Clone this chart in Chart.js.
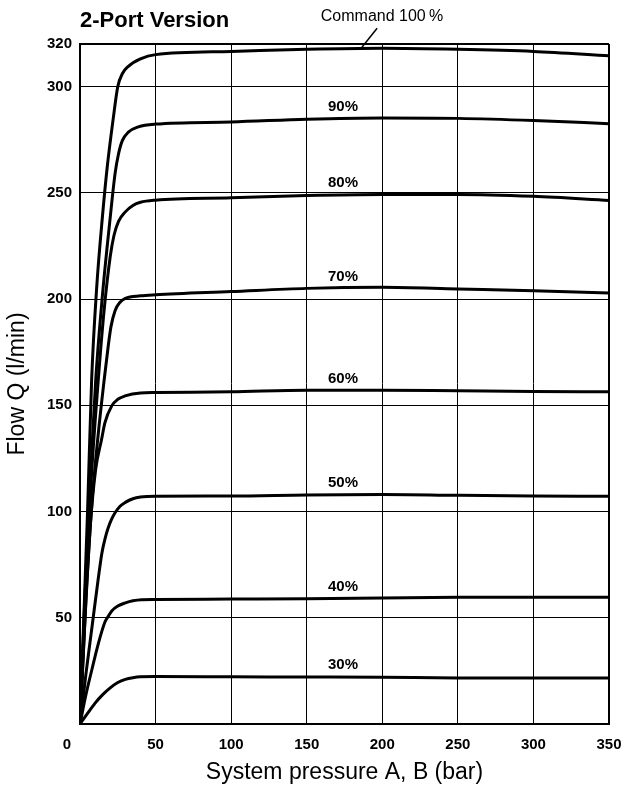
<!DOCTYPE html>
<html>
<head>
<meta charset="utf-8">
<title>2-Port Version</title>
<script src="https://cdn.jsdelivr.net/npm/chart.js@4.4.1/dist/chart.umd.min.js"></script>
<style>
  html, body { margin: 0; padding: 0; background: #fff; }
  canvas { display: block; }
</style>
</head>
<body>
<canvas id="grafico" width="626" height="799"></canvas>
<script>
"use strict";
// curves: pressure (bar) -> flow Q (l/min), one pair per command %
const pres100 = [0, 2, 5, 7.7, 11, 15, 18, 22, 25, 28, 32, 40, 50, 100, 150, 200, 250, 300, 350];
const flow100 = [0, 40, 100, 162, 205, 240, 262, 285, 300, 306, 309.5, 313, 315, 316.5, 317.5, 318, 317.5, 316.5, 314.5];
const pres90 = [0, 3, 6, 10.4, 15, 19.9, 23.2, 25.4, 28, 32, 38.6, 50, 100, 150, 200, 250, 300, 350];
const flow90 = [0, 55, 105, 162, 203, 237.7, 259, 268, 274.5, 278.5, 281, 282.3, 283.3, 284.6, 285.2, 285, 284, 282.5];
const pres80 = [0, 3, 7, 12.1, 16, 20, 22.5, 25.5, 30, 35, 40, 50, 100, 150, 200, 250, 300, 350];
const flow80 = [0, 50, 110, 162, 195, 220, 230, 236.5, 241, 244, 245.5, 246.5, 247.6, 248.7, 249.2, 249.2, 248.3, 246.4];
const pres70 = [0, 4, 8, 12, 16, 18.7, 20.5, 23.2, 26.5, 30, 40, 50, 100, 150, 200, 250, 300, 350];
const flow70 = [0, 60, 105, 136, 162, 178, 187, 194.5, 198.5, 200.3, 201.5, 202, 203.5, 205, 205.5, 204.7, 203.9, 202.8];
const pres60 = [0, 3, 7, 10.4, 14.3, 16.5, 21, 25, 29.8, 40, 50, 100, 150, 200, 250, 300, 350];
const flow60 = [0, 45, 95, 120, 134, 141.8, 149.7, 152.8, 154.4, 155.8, 156, 156.3, 157.1, 157.1, 156.8, 156.5, 156.3];
const pres50 = [0, 4, 8, 12, 14.5, 16.5, 18.5, 21, 23.2, 26.5, 30, 35, 40, 50, 100, 150, 200, 250, 300, 350];
const flow50 = [0, 24, 46, 68, 80.5, 87, 92, 96.5, 99.4, 102.5, 104.3, 106, 106.8, 107.2, 107.3, 107.8, 108, 107.6, 107.3, 107.2];
const pres40 = [0, 4, 8, 12, 16.5, 19, 21, 25, 30, 35, 40.8, 50, 100, 150, 200, 250, 300, 350];
const flow40 = [0, 14, 26, 37.5, 48, 51, 53.2, 55.5, 57, 58, 58.5, 58.6, 58.8, 59, 59.3, 59.6, 59.7, 59.7];
const pres30 = [0, 5, 10, 15, 20, 25, 30, 35, 40, 50, 100, 150, 200, 250, 300, 350];
const flow30 = [0, 5, 9.8, 13.8, 17, 19.5, 21, 21.8, 22.2, 22.3, 22.2, 22.1, 22, 21.7, 21.7, 21.7];

const comandos = ['100%', '90%', '80%', '70%', '60%', '50%', '40%', '30%'];
const curvas = [
    [pres100, flow100], [pres90, flow90], [pres80, flow80], [pres70, flow70],
    [pres60, flow60], [pres50, flow50], [pres40, flow40], [pres30, flow30]
];
// curve labels sit at this pressure, just above each curve
const rotuloPressao = 174;
const rotuloVazao = [null, 285, 249, 205, 157, 108, 59, 22];
const yTicks = [0, 50, 100, 150, 200, 250, 300, 320];
const fonte = 'Liberation Sans, Arial, Helvetica, sans-serif';

const datasets = curvas.map((c, i) => ({
    label: comandos[i],
    data: c[0].map((p, j) => ({ x: p, y: c[1][j] })),
    borderColor: '#000',
    borderWidth: 3,
    pointRadius: 0,
    fill: false,
    cubicInterpolationMode: 'monotone'
}));

const rotulos = {
    id: 'rotulos',
    afterDraw(chart) {
        const ctx = chart.ctx;
        const xs = chart.scales.x, ys = chart.scales.y;
        ctx.save();
        ctx.fillStyle = '#000';
        ctx.strokeStyle = '#000';
        // title
        ctx.font = 'bold 22px ' + fonte;
        ctx.textAlign = 'left';
        ctx.textBaseline = 'middle';
        ctx.fillText('2-Port Version', 80, 21);
        // percent labels
        ctx.font = 'bold 15px ' + fonte;
        ctx.textAlign = 'center';
        rotuloVazao.forEach((v, i) => {
            if (v === null) return;
            ctx.fillText(comandos[i], xs.getPixelForValue(rotuloPressao), ys.getPixelForValue(v) - 12);
        });
        // command 100 % with leader line
        const px = xs.getPixelForValue(186), py = ys.getPixelForValue(318);
        ctx.lineWidth = 1.5;
        ctx.beginPath();
        ctx.moveTo(px, py);
        ctx.lineTo(px + 16, py - 20);
        ctx.stroke();
        ctx.font = '16px ' + fonte;
        ctx.fillText('Command 100\u2009%', 382, 17);
        // origin label, sits left of the axis
        ctx.font = 'bold 15px ' + fonte;
        ctx.fillText('0', xs.getPixelForValue(0) - 13, 745);
        ctx.restore();
    }
};

const ctx = document.getElementById('grafico').getContext('2d');
const grafico = new Chart(ctx, {
    type: 'line',
    data: { datasets: datasets },
    options: {
        responsive: false,
        animation: false,
        layout: { padding: { top: 44, right: 17, left: 0, bottom: 0 } },
        plugins: { legend: { display: false }, tooltip: { enabled: false } },
        scales: {
            x: {
                type: 'linear',
                min: 0,
                max: 350,
                ticks: {
                    stepSize: 50,
                    padding: 12,
                    color: '#000',
                    font: { family: fonte, size: 15, weight: 'bold' },
                    callback: (v) => v === 0 ? '' : v
                },
                grid: {
                    color: '#000',
                    drawTicks: false,
                    lineWidth: (c) => c.tick && c.tick.value === 350 ? 2 : 1
                },
                border: { color: '#000', width: 2 },
                title: {
                    display: true,
                    text: 'System pressure A, B (bar)',
                    color: '#000',
                    font: { family: fonte, size: 23 },
                    padding: { top: 0, bottom: 13 }
                },
                afterFit: (s) => { s.height = 75; s.paddingLeft = 0; s.paddingRight = 0; }
            },
            y: {
                type: 'linear',
                min: 0,
                max: 320,
                afterBuildTicks: (s) => { s.ticks = yTicks.map(v => ({ value: v })); },
                ticks: {
                    padding: 8,
                    color: '#000',
                    font: { family: fonte, size: 15, weight: 'bold' },
                    callback: (v) => v === 0 ? '' : v
                },
                grid: {
                    color: '#000',
                    drawTicks: false,
                    lineWidth: (c) => c.tick && c.tick.value === 320 ? 2 : 1
                },
                border: { color: '#000', width: 2 },
                title: {
                    display: true,
                    text: 'Flow Q (l/min)',
                    color: '#000',
                    font: { family: fonte, size: 23 },
                    padding: { top: 4, bottom: 4 }
                },
                afterFit: (s) => { s.width = 80; }
            }
        }
    },
    plugins: [rotulos]
});
</script>
</body>
</html>
